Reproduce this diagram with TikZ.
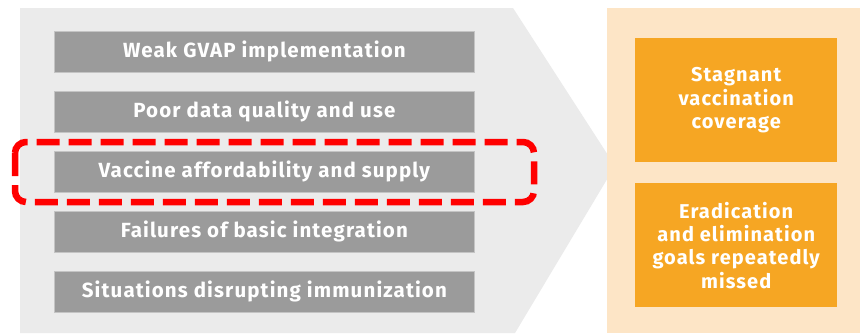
\documentclass[tikz,border=0pt]{standalone}
\usepackage{fontspec}
\setmainfont{Fira Sans}
\newfontfamily\labelfont[LetterSpace=5.5]{Fira Sans}
\definecolor{bgGrey}{HTML}{EBEBEB}
\definecolor{barGrey}{HTML}{9B9B9B}
\definecolor{barEdge}{HTML}{C4C4C4}
\definecolor{panelOrange}{HTML}{FDE5C6}
\definecolor{boxOrange}{HTML}{F6A623}
\definecolor{hiRed}{HTML}{FF0000}
\tikzset{
  bar/.style={fill=barGrey, draw=barEdge, line width=0.8pt, minimum width=420pt, minimum height=41pt,
    inner sep=0pt, text=white, font=\labelfont\fontsize{20.5}{23}\selectfont\bfseries, anchor=north west},
  obox/.style={fill=boxOrange, draw=none, minimum width=202pt, minimum height=124pt, inner sep=0pt,
    text=white, align=center, font=\labelfont\fontsize{20}{23.3}\selectfont\bfseries, anchor=north west},
  hilite/.style={draw=hiRed, line width=6.5pt, dash pattern=on 23pt off 9pt, rounded corners=11pt}
}
\begin{document}
\begin{tikzpicture}[x=1pt,y=-1pt]
\useasboundingbox (0,0) rectangle (860,333);
\fill[white] (0,0) rectangle (860,333);
% grey chevron
\fill[bgGrey] (20,8) -- (513,8) -- (615,166) -- (515,333) -- (20,333) -- cycle;
% orange panel
\fill[panelOrange] (607,8) rectangle (860,333);
% bars
\node[bar] (b1) at (54,31) {Weak GVAP implementation};
\node[bar] (b2) at (54,91) {Poor data quality and use};
\node[bar] (b3) at (54,151) {Vaccine affordability and supply};
\node[bar] (b4) at (54,211) {Failures of basic integration};
\node[bar] (b5) at (54,271) {Situations disrupting immunization};
% orange boxes
\node[obox] (o1) at (635,38) {Stagnant\\vaccination\\coverage};
\node[obox] (o2) at (635,183) {Eradication\\and elimination\\goals repeatedly\\missed};
% highlight
\draw[hilite] (15,142) rectangle (534,202);
\end{tikzpicture}
\end{document}
